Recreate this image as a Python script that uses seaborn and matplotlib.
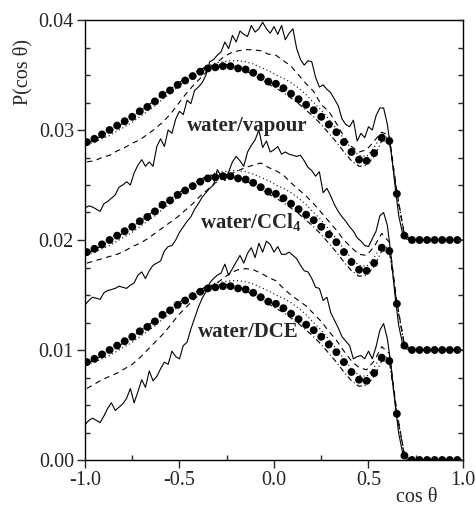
import numpy as np
import pandas as pd
import matplotlib
matplotlib.use("Agg")
import matplotlib.pyplot as plt
import seaborn as sns
from matplotlib.ticker import MultipleLocator, FormatStrFormatter

# ---------------- data ----------------
# coarse grid (smooth curves and filled circles)
x_coarse = [-0.99, -0.95, -0.91, -0.87, -0.83, -0.79, -0.75, -0.71, -0.67, -0.63,
            -0.59, -0.55, -0.51, -0.47, -0.43, -0.39, -0.35, -0.31, -0.27, -0.23,
            -0.19, -0.15, -0.11, -0.07, -0.03, 0.01, 0.05, 0.09, 0.13, 0.17,
            0.21, 0.25, 0.29, 0.33, 0.37, 0.41, 0.45, 0.49, 0.53, 0.57,
            0.61, 0.65, 0.69, 0.73, 0.77, 0.81, 0.85, 0.89, 0.93, 0.97]

# fine grid (noisy simulation curves)
x_fine = [round(-1.0 + 0.02 * i, 2) for i in range(101)]

# vertical shift of each interface
interfaces = ["water/vapour", "water/CCl4", "water/DCE"]
offsets = [0.02, 0.01, 0.00]

# reference distribution (filled circles), same for all interfaces
p_dots = [0.0089, 0.0092, 0.0096, 0.0100, 0.0104, 0.0108, 0.0112, 0.0117, 0.0121, 0.0126,
          0.0132, 0.0136, 0.0141, 0.0145, 0.0149, 0.0153, 0.0156, 0.0157, 0.0158, 0.0158,
          0.0156, 0.0155, 0.0152, 0.0148, 0.0144, 0.0142, 0.0138, 0.0133, 0.0128, 0.0123,
          0.0118, 0.0112, 0.0105, 0.0098, 0.0089, 0.0080, 0.0073, 0.0072, 0.0079, 0.0093,
          0.0090, 0.0042, 0.0004, 0.0, 0.0, 0.0, 0.0, 0.0, 0.0, 0.0]

p_dotted = [0.0087, 0.0089, 0.0092, 0.0095, 0.0099, 0.0103, 0.0107, 0.0112, 0.0117, 0.0122,
            0.0128, 0.0133, 0.0139, 0.0145, 0.0150, 0.0155, 0.0158, 0.0161, 0.0162, 0.0163,
            0.0163, 0.0162, 0.0160, 0.0157, 0.0154, 0.0150, 0.0147, 0.0143, 0.0138, 0.0132,
            0.0125, 0.0118, 0.0110, 0.0101, 0.0092, 0.0083, 0.0077, 0.0076, 0.0084, 0.0096,
            0.0092, 0.0043, 0.0004, 0.0, 0.0, 0.0, 0.0, 0.0, 0.0, 0.0]

p_dashdot = [0.0088, 0.0091, 0.0095, 0.0099, 0.0103, 0.0107, 0.0112, 0.0117, 0.0122, 0.0127,
             0.0132, 0.0137, 0.0142, 0.0147, 0.0151, 0.0155, 0.0158, 0.0159, 0.0160, 0.0159,
             0.0157, 0.0154, 0.0150, 0.0146, 0.0142, 0.0138, 0.0134, 0.0129, 0.0124, 0.0118,
             0.0112, 0.0105, 0.0097, 0.0089, 0.0080, 0.0072, 0.0067, 0.0068, 0.0076, 0.0090,
             0.0090, 0.0042, 0.0004, 0.0, 0.0, 0.0, 0.0, 0.0, 0.0, 0.0]

dashed_vapour = [0.0071, 0.0072, 0.0075, 0.0077, 0.0081, 0.0084, 0.0088, 0.0091, 0.0096, 0.0101,
                 0.0107, 0.0114, 0.0123, 0.0132, 0.0140, 0.0147, 0.0154, 0.0160, 0.0166, 0.0170,
                 0.0172, 0.0173, 0.0173, 0.0172, 0.0169, 0.0168, 0.0163, 0.0158, 0.0150, 0.0142,
                 0.0135, 0.0123, 0.0117, 0.0106, 0.0094, 0.0085, 0.0080, 0.0082, 0.0090, 0.0098,
                 0.0095, 0.0044, 0.0005, 0.0, 0.0, 0.0, 0.0, 0.0, 0.0, 0.0]

dashed_ccl4 = [0.0079, 0.0081, 0.0083, 0.0085, 0.0087, 0.0090, 0.0094, 0.0097, 0.0101, 0.0106,
               0.0111, 0.0116, 0.0121, 0.0127, 0.0133, 0.0140, 0.0146, 0.0152, 0.0156, 0.0160,
               0.0163, 0.0166, 0.0168, 0.0170, 0.0166, 0.0163, 0.0159, 0.0152, 0.0146, 0.0140,
               0.0133, 0.0125, 0.0117, 0.0109, 0.0100, 0.0093, 0.0087, 0.0086, 0.0094, 0.0106,
               0.0098, 0.0044, 0.0005, 0.0, 0.0, 0.0, 0.0, 0.0, 0.0, 0.0]

dashed_dce = [0.0065, 0.0069, 0.0073, 0.0076, 0.0079, 0.0083, 0.0087, 0.0093, 0.0100, 0.0107,
              0.0114, 0.0122, 0.0131, 0.0138, 0.0145, 0.0151, 0.0156, 0.0160, 0.0165, 0.0170,
              0.0173, 0.0174, 0.0173, 0.0170, 0.0166, 0.0163, 0.0156, 0.0150, 0.0145, 0.0140,
              0.0133, 0.0126, 0.0117, 0.0109, 0.0099, 0.0090, 0.0084, 0.0082, 0.0090, 0.0103,
              0.0097, 0.0044, 0.0005, 0.0, 0.0, 0.0, 0.0, 0.0, 0.0, 0.0]

solid_vapour = [0.0029, 0.0031, 0.0030, 0.0028, 0.0026, 0.0033, 0.0035, 0.0038, 0.0041, 0.0048,
                0.0050, 0.0053, 0.0050, 0.0061, 0.0068, 0.0073, 0.0067, 0.0071, 0.0067, 0.0085,
                0.0092, 0.0085, 0.0100, 0.0097, 0.0110, 0.0117, 0.0114, 0.0127, 0.0124, 0.0136,
                0.0139, 0.0143, 0.0150, 0.0162, 0.0164, 0.0168, 0.0171, 0.0180, 0.0174, 0.0186,
                0.0180, 0.0190, 0.0187, 0.0185, 0.0195, 0.0189, 0.0192, 0.0198, 0.0192, 0.0188,
                0.0194, 0.0187, 0.0195, 0.0182, 0.0188, 0.0192, 0.0174, 0.0164, 0.0159, 0.0163,
                0.0162, 0.0148, 0.0139, 0.0141, 0.0137, 0.0134, 0.0128, 0.0122, 0.0110, 0.0105,
                0.0103, 0.0109, 0.0090, 0.0097, 0.0093, 0.0103, 0.0100, 0.0113, 0.0120, 0.0120,
                0.0105, 0.0080, 0.0050, 0.0022, 0.0006, 0.0001,
                0.0, 0.0, 0.0, 0.0, 0.0, 0.0, 0.0, 0.0, 0.0, 0.0, 0.0, 0.0, 0.0, 0.0, 0.0]

solid_ccl4 = [0.0041, 0.0045, 0.0048, 0.0047, 0.0046, 0.0052, 0.0054, 0.0055, 0.0056, 0.0058,
              0.0057, 0.0056, 0.0059, 0.0061, 0.0068, 0.0071, 0.0065, 0.0072, 0.0077, 0.0079,
              0.0081, 0.0090, 0.0094, 0.0095, 0.0100, 0.0107, 0.0112, 0.0117, 0.0121, 0.0128,
              0.0133, 0.0139, 0.0143, 0.0147, 0.0150, 0.0164, 0.0158, 0.0154, 0.0162, 0.0171,
              0.0176, 0.0172, 0.0167, 0.0180, 0.0186, 0.0191, 0.0200, 0.0184, 0.0190, 0.0180,
              0.0182, 0.0185, 0.0178, 0.0180, 0.0178, 0.0177, 0.0176, 0.0177, 0.0172, 0.0166,
              0.0163, 0.0158, 0.0162, 0.0143, 0.0147, 0.0140, 0.0132, 0.0126, 0.0121, 0.0117,
              0.0112, 0.0108, 0.0102, 0.0099, 0.0095, 0.0094, 0.0101, 0.0108, 0.0122, 0.0125,
              0.0113, 0.0085, 0.0050, 0.0022, 0.0006, 0.0001,
              0.0, 0.0, 0.0, 0.0, 0.0, 0.0, 0.0, 0.0, 0.0, 0.0, 0.0, 0.0, 0.0, 0.0, 0.0]

solid_dce = [0.0032, 0.0036, 0.0038, 0.0036, 0.0034, 0.0040, 0.0047, 0.0052, 0.0045, 0.0048,
             0.0051, 0.0056, 0.0065, 0.0052, 0.0062, 0.0073, 0.0066, 0.0081, 0.0072, 0.0076,
             0.0083, 0.0089, 0.0087, 0.0099, 0.0094, 0.0092, 0.0104, 0.0107, 0.0119, 0.0129,
             0.0139, 0.0147, 0.0153, 0.0161, 0.0165, 0.0168, 0.0170, 0.0178, 0.0168, 0.0174,
             0.0180, 0.0186, 0.0179, 0.0188, 0.0193, 0.0184, 0.0197, 0.0189, 0.0199, 0.0196,
             0.0189, 0.0194, 0.0187, 0.0187, 0.0189, 0.0186, 0.0183, 0.0177, 0.0172, 0.0171,
             0.0165, 0.0157, 0.0156, 0.0145, 0.0148, 0.0134, 0.0127, 0.0120, 0.0112, 0.0108,
             0.0104, 0.0092, 0.0094, 0.0095, 0.0092, 0.0099, 0.0092, 0.0103, 0.0118, 0.0124,
             0.0110, 0.0085, 0.0052, 0.0024, 0.0007, 0.0001,
             0.0, 0.0, 0.0, 0.0, 0.0, 0.0, 0.0, 0.0, 0.0, 0.0, 0.0, 0.0, 0.0, 0.0, 0.0]

solid_curves = [solid_vapour, solid_ccl4, solid_dce]
dashed_curves = [dashed_vapour, dashed_ccl4, dashed_dce]

# ---------------- style ----------------
sns.set_style("ticks")
plt.rcParams["font.family"] = ["Liberation Serif", "DejaVu Serif"]
plt.rcParams["axes.unicode_minus"] = False
plt.rcParams["mathtext.fontset"] = "custom"
plt.rcParams["mathtext.rm"] = "Liberation Serif"
plt.rcParams["mathtext.bf"] = "Liberation Serif:bold"
plt.rcParams["mathtext.it"] = "Liberation Serif:italic"

fig = plt.figure(figsize=(4.77, 5.05), dpi=100)
ax = fig.add_axes([85 / 477, 1 - 460 / 505, 378 / 477, 440 / 505])

lw = 0.8
for off, sol, dsh in zip(offsets, solid_curves, dashed_curves):
    fine = pd.DataFrame({"x": x_fine, "y": np.array(sol) + off})
    sns.lineplot(data=fine, x="x", y="y", ax=ax, color="black", lw=lw,
                 estimator=None, sort=False)
    coarse = pd.DataFrame({"x": x_coarse,
                           "dashed": np.array(dsh) + off,
                           "dotted": np.array(p_dotted) + off,
                           "dashdot": np.array(p_dashdot) + off,
                           "dots": np.array(p_dots) + off})
    sns.lineplot(data=coarse, x="x", y="dashed", ax=ax, color="black", lw=lw,
                 estimator=None, sort=False, linestyle=(0, (5, 4)))
    sns.lineplot(data=coarse, x="x", y="dotted", ax=ax, color="black", lw=lw,
                 estimator=None, sort=False, linestyle=(0, (1, 2.5)))
    sns.lineplot(data=coarse, x="x", y="dashdot", ax=ax, color="black", lw=lw,
                 estimator=None, sort=False, linestyle=(0, (5, 2.5, 1, 2.5)))
    sns.scatterplot(data=coarse, x="x", y="dots", ax=ax, color="black", s=32,
                    edgecolor="none", zorder=5)

# curve labels
ax.text(-0.46, 0.0299, "water/vapour", fontsize=15, fontweight="bold",
        ha="left", va="baseline")
ax.text(-0.392, 0.0211, r"water/CCl$_\mathbf{4}$", fontsize=15, fontweight="bold",
        ha="left", va="baseline")
ax.text(-0.402, 0.0112, "water/DCE", fontsize=15, fontweight="bold",
        ha="left", va="baseline")

# axes
ax.set_xlim(-1.0, 1.0)
ax.set_ylim(0.0, 0.04)
ax.set_xlabel("")
ax.set_ylabel("")
ax.xaxis.set_major_locator(MultipleLocator(0.5))
ax.xaxis.set_minor_locator(MultipleLocator(0.25))
ax.yaxis.set_major_locator(MultipleLocator(0.01))
ax.yaxis.set_minor_locator(MultipleLocator(0.0025))
ax.xaxis.set_major_formatter(FormatStrFormatter("%.1f"))
ax.yaxis.set_major_formatter(FormatStrFormatter("%.2f"))
ax.tick_params(which="major", direction="out", length=6, width=1.0,
               labelsize=14.5, pad=2)
ax.tick_params(which="minor", direction="in", length=3.5, width=1.0)
for sp in ax.spines.values():
    sp.set_visible(True)
    sp.set_linewidth(1.0)
    sp.set_color("black")

# inward ticks along the right edge
ax_r = ax.twinx()
ax_r.set_ylim(0.0, 0.04)
ax_r.yaxis.set_major_locator(MultipleLocator(0.0025))
ax_r.tick_params(axis="y", which="major", direction="in", length=3.5, width=1.0,
                 labelright=False)
for sp in ax_r.spines.values():
    sp.set_visible(False)

fig.text(23 / 477, 1 - 72 / 505, "P(cos θ)", rotation=90, fontsize=14.5,
         ha="center", va="center")
fig.text(417 / 477, 1 - 497 / 505, "cos θ", fontsize=14.5, ha="center",
         va="center")

fig.savefig("out.png", dpi=100)
